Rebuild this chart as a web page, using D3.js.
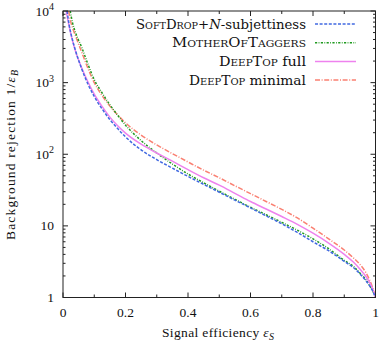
<!DOCTYPE html>
<html>
<head>
<meta charset="utf-8">
<script src="https://cdn.jsdelivr.net/npm/d3@7"></script>
<style>
  body { margin: 0; background: #fff; }
</style>
</head>
<body>
<div id="chart"></div>
<script>
// Signal efficiency grid (shared by all curves except the start points)
const effGrid = [0.03, 0.04, 0.06, 0.08, 0.1, 0.125, 0.15, 0.175, 0.2, 0.25, 0.3, 0.35, 0.4, 0.45, 0.5,
                 0.55, 0.6, 0.65, 0.7, 0.75, 0.8, 0.85, 0.9, 0.93, 0.95, 0.97, 0.98, 0.99, 1.0];

// background rejection 1/eps_B
const softDropStart = [[0.013, 10000], [0.02, 6300]];
const softDrop = [4000, 2800, 1550, 950, 640, 430, 305, 228, 175, 115, 84, 64, 49, 38, 29.5,
                  22.9, 17.8, 13.8, 10.7, 8.1, 6.0, 4.5, 3.2, 2.6, 2.14, 1.7, 1.48, 1.26, 1];

const motherStart = [[0.023, 10000]];
const mother = [7000, 5000, 3100, 1800, 1100, 720, 490, 350, 255, 155, 104, 73, 53, 40, 30.5,
                23.5, 18.2, 14.3, 11.2, 8.7, 6.6, 4.8, 3.3, 2.7, 2.2, 1.75, 1.5, 1.27, 1];

const deepFullStart = [[0.01, 10000], [0.02, 6000]];
const deepFull = [3900, 2750, 1600, 1020, 690, 465, 330, 250, 197, 138, 104, 80, 61, 47, 37,
                  28.5, 21.9, 17.2, 13.5, 10.5, 7.9, 5.75, 4.0, 3.1, 2.5, 1.95, 1.65, 1.35, 1];

const deepMinStart = [[0.018, 10000], [0.025, 7000]];
const deepMin = [5900, 4500, 2650, 1580, 1000, 660, 470, 355, 275, 185, 135, 102, 78, 60, 47,
                 36.3, 28.2, 21.9, 17, 12.9, 9.3, 6.6, 4.6, 3.55, 2.9, 2.2, 1.8, 1.4, 1];

const xTicks = [0, 0.2, 0.4, 0.6, 0.8, 1];
const yMajor = [1, 10, 100, 1000, 10000];

const width = 382, height = 345;
const margin = { top: 11, right: 6.5, bottom: 47.5, left: 63 };
const fs = 13.5;
const serif = "Liberation Serif";
const legendFont = "DejaVu Serif";

const x = d3.scaleLinear().domain([0, 1]).range([margin.left, width - margin.right]);
const y = d3.scaleLog().domain([1, 10000]).range([height - margin.bottom, margin.top]);

const svg = d3.select("#chart").append("svg")
    .attr("width", width)
    .attr("height", height)
    .attr("font-family", serif);

svg.append("defs").append("clipPath").attr("id", "clip")
  .append("rect")
    .attr("x", x(0)).attr("y", y(10000))
    .attr("width", x(1) - x(0)).attr("height", y(1) - y(10000));

// build series
const series = [
  { start: softDropStart, vals: softDrop, color: "#4169e1", dash: "3,1.6" },
  { start: motherStart, vals: mother, color: "#1f9a1f", dash: "2.2,1.4,0.8,1.4" },
  { start: deepFullStart, vals: deepFull, color: "#ee82ee", dash: null },
  { start: deepMinStart, vals: deepMin, color: "#fa8072", dash: "5,1.6,1,1.6" }
];
series.forEach(s => {
  s.points = s.start.concat(effGrid.map((e, i) => [e, s.vals[i]]))
    .filter((p, i, arr) => i === 0 || p[0] > arr[i - 1][0]);
});

const line = d3.line()
    .x(d => x(d[0]))
    .y(d => y(d[1]))
    .curve(d3.curveMonotoneX);

// draw order: red, green, pink, blue (blue on top)
const drawOrder = [3, 1, 2, 0];
svg.append("g").attr("clip-path", "url(#clip)")
  .selectAll("path")
  .data(drawOrder.map(i => series[i]))
  .join("path")
    .attr("d", d => line(d.points))
    .attr("fill", "none")
    .attr("stroke", d => d.color)
    .attr("stroke-width", 1.5)
    .attr("stroke-dasharray", d => d.dash);

// frame
const axisColor = "#222";
svg.append("rect")
    .attr("x", x(0)).attr("y", y(10000))
    .attr("width", x(1) - x(0)).attr("height", y(1) - y(10000))
    .attr("fill", "none").attr("stroke", axisColor).attr("stroke-width", 1);

// x ticks (inward, mirrored)
const ticksG = svg.append("g").attr("stroke", axisColor).attr("stroke-width", 1);
d3.range(0, 11).forEach(i => {
  const v = i / 10;
  const len = i % 2 === 0 ? 5 : 3;
  ticksG.append("line").attr("x1", x(v)).attr("x2", x(v)).attr("y1", y(1)).attr("y2", y(1) - len);
  ticksG.append("line").attr("x1", x(v)).attr("x2", x(v)).attr("y1", y(10000)).attr("y2", y(10000) + len);
});

// y ticks (log, inward, mirrored)
const yTickVals = [];
for (let dec = 1; dec < 10000; dec *= 10) {
  for (let k = 1; k < 10; k++) yTickVals.push({ v: dec * k, major: k === 1 });
}
yTickVals.push({ v: 10000, major: true });
yTickVals.forEach(t => {
  const len = t.major ? 5 : 2.5;
  ticksG.append("line").attr("x1", x(0)).attr("x2", x(0) + len).attr("y1", y(t.v)).attr("y2", y(t.v));
  ticksG.append("line").attr("x1", x(1)).attr("x2", x(1) - len).attr("y1", y(t.v)).attr("y2", y(t.v));
});

// x tick labels
svg.append("g").selectAll("text")
  .data(xTicks)
  .join("text")
    .attr("x", d => x(d))
    .attr("y", 317)
    .attr("text-anchor", "middle")
    .attr("font-family", serif)
    .attr("font-size", fs)
    .attr("fill", "#111")
    .text(d => d3.format("")(d));

// y tick labels
const yl = svg.append("g").attr("fill", "#111");
yMajor.forEach(v => {
  const t = yl.append("text")
      .attr("x", 54)
      .attr("y", y(v) + 4.6)
      .attr("text-anchor", "end")
      .attr("font-family", serif)
      .attr("font-size", fs);
  const e = Math.round(Math.log10(v));
  if (e === 0) t.text("1");
  else if (e === 1) t.text("10");
  else {
    t.append("tspan").text("10");
    t.append("tspan").attr("dy", -5.5).attr("font-size", 10).text(e);
  }
});

// axis titles
const xt = svg.append("text")
    .attr("x", 162).attr("y", 337)
    .attr("font-family", serif)
    .attr("font-size", fs)
    .attr("textLength", 112)
    .attr("lengthAdjust", "spacing")
    .attr("fill", "#111");
xt.append("tspan").text("Signal efficiency ");
xt.append("tspan").attr("font-style", "italic").text("\u03b5");
xt.append("tspan").attr("font-style", "italic").attr("font-size", 10).attr("dy", 2.5).text("S");

const yt = svg.append("text")
    .attr("transform", `translate(15,240) rotate(-90)`)
    .attr("font-family", serif)
    .attr("font-size", fs)
    .attr("textLength", 170)
    .attr("lengthAdjust", "spacing")
    .attr("fill", "#111");
yt.append("tspan").text("Background rejection 1/");
yt.append("tspan").attr("font-style", "italic").text("\u03b5");
yt.append("tspan").attr("font-style", "italic").attr("font-size", 10).attr("dy", 2.5).text("B");

// legend
const legendRows = [
  { parts: [["SoftDrop", "sc"], ["+", ""], ["N", "it"], ["-subjettiness", ""]], w: 170, s: series[0] },
  { parts: [["MotherOfTaggers", "sc"]], w: 134, s: series[1] },
  { parts: [["DeepTop", "sc"], [" full", ""]], w: 87, s: series[2] },
  { parts: [["DeepTop", "sc"], [" minimal", ""]], w: 117, s: series[3] }
];
const lg = svg.append("g");
legendRows.forEach((r, i) => {
  const cy = 24 + i * 18.7;
  const t = lg.append("text")
      .attr("x", 306 - r.w).attr("y", cy + 4.5)
      .attr("font-family", legendFont)
      .attr("font-size", 12.5)
      .attr("textLength", r.w)
      .attr("lengthAdjust", "spacingAndGlyphs")
      .attr("fill", "#111");
  r.parts.forEach(p => {
    const ts = t.append("tspan").text(p[0]);
    if (p[1] === "sc") ts.style("font-variant", "small-caps");
    if (p[1] === "it") ts.attr("font-style", "italic");
  });
  lg.append("line")
      .attr("x1", 315).attr("x2", 356)
      .attr("y1", cy).attr("y2", cy)
      .attr("stroke", r.s.color)
      .attr("stroke-width", 1.5)
      .attr("stroke-dasharray", r.s.dash);
});
</script>
</body>
</html>
